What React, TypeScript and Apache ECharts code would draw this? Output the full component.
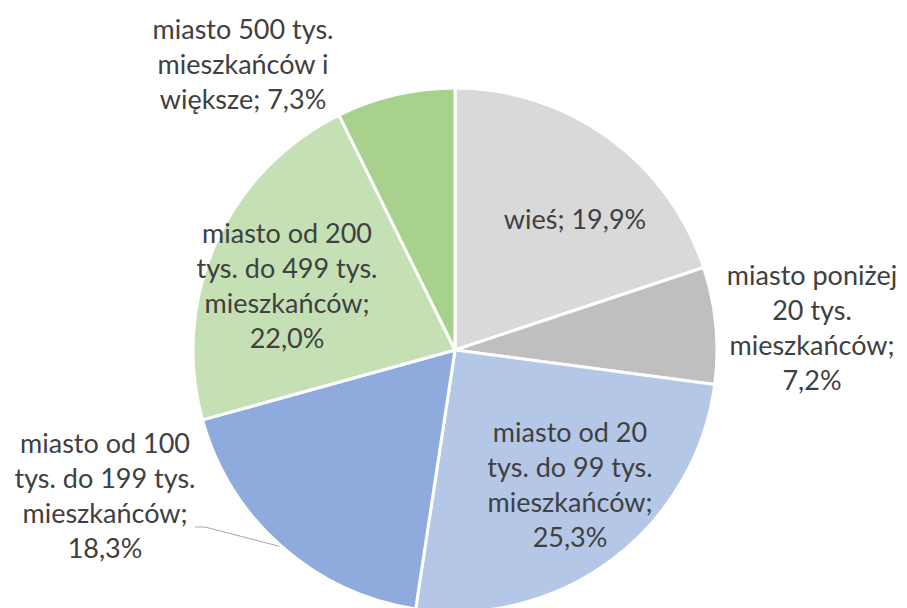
import React, { useEffect, useRef } from "react";
import * as echarts from "echarts";

const categories = [
  "wieś",
  "miasto poniżej 20 tys. mieszkańców",
  "miasto od 20 tys. do 99 tys. mieszkańców",
  "miasto od 100 tys. do 199 tys. mieszkańców",
  "miasto od 200 tys. do 499 tys. mieszkańców",
  "miasto 500 tys. mieszkańców i większe",
];
const values = [19.9, 7.2, 25.3, 18.3, 22.0, 7.3];
const wrappedNames = [
  "wieś;",
  "miasto poniżej\n20 tys.\nmieszkańców;\n",
  "miasto od 20\ntys. do 99 tys.\nmieszkańców;\n",
  "miasto od 100\ntys. do 199 tys.\nmieszkańców;\n",
  "miasto od 200\ntys. do 499 tys.\nmieszkańców;\n",
  "miasto 500 tys.\nmieszkańców i\nwiększe;",
];
const colors = ["#d9d9d9", "#bfbfbf", "#b4c7e7", "#8faadc", "#c5e0b4", "#a9d18e"];
const labelPos: [number, number][] = [
  [575, 218],
  [812, 327],
  [570, 484],
  [105, 495],
  [287, 285],
  [243, 63],
];
const leaderLine: [number, number][] = [
  [282, 547],
  [205, 527],
  [195, 527],
];

export default function App() {
  const ref = useRef<HTMLDivElement>(null);
  useEffect(() => {
    if (!ref.current) return;
    const chart = echarts.init(ref.current, undefined, { renderer: "svg" });
    chart.setOption({
      animation: false,
      backgroundColor: "#ffffff",
      series: [
        {
          type: "pie",
          center: [455, 350],
          radius: 262,
          startAngle: 90,
          clockwise: true,
          avoidLabelOverlap: false,
          itemStyle: { borderColor: "#ffffff", borderWidth: 3 },
          label: {
            show: true,
            position: "outside",
            color: "#404040",
            fontFamily: "Lato",
            fontSize: 27,
            lineHeight: 35,
            align: "center",
            formatter: (p: any) => {
              const n = wrappedNames[p.dataIndex];
              const sep = n.endsWith("\n") ? "" : " ";
              return n + sep + p.value.toFixed(1).replace(".", ",") + "%";
            },
          },
          labelLine: { show: false },
          labelLayout: (p: any) => {
            const r: any = {
              x: labelPos[p.dataIndex][0],
              y: labelPos[p.dataIndex][1],
              align: "center",
              verticalAlign: "middle",
            };
            if (p.dataIndex === 3) r.labelLinePoints = leaderLine;
            return r;
          },
          data: values.map((v, i) => ({
            name: categories[i],
            value: v,
            itemStyle: { color: colors[i] },
            labelLine:
              i === 3
                ? { show: true, lineStyle: { color: "#a6a6a6", width: 1 }, length: 10, length2: 10 }
                : { show: false },
          })),
        },
      ],
    });
    return () => chart.dispose();
  }, []);
  return (
    <div
      ref={ref}
      style={{ position: "absolute", left: 0, top: 0, width: 907, height: 608 }}
    />
  );
}
